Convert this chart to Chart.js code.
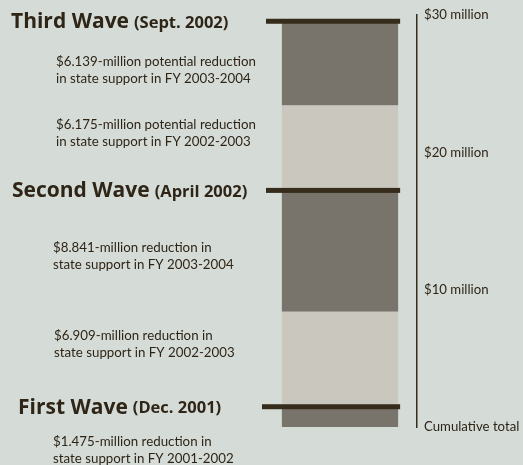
<!DOCTYPE html>
<html>
<head>
<meta charset="utf-8">
<script src="https://cdn.jsdelivr.net/npm/chart.js@4"></script>
<style>
  html, body { margin: 0; padding: 0; background: #d5dcd8; }
  #wrap { width: 523px; height: 465px; }
</style>
</head>
<body>
<div id="wrap"><canvas id="chart" width="523" height="465"></canvas></div>
<script>
// ── DONNÉES ───────────────────────────────────────
// reductions in millions, bottom to top
const segmentValues = [1.475, 6.909, 8.841, 6.175, 6.139];
const segmentShade  = ['dark', 'light', 'dark', 'light', 'dark'];
const segmentNotes  = [
  ['$1.475-million reduction in', 'state support in FY 2001-2002'],
  ['$6.909-million reduction in', 'state support in FY 2002-2003'],
  ['$8.841-million reduction in', 'state support in FY 2003-2004'],
  ['$6.175-million potential reduction', 'in state support in FY 2002-2003'],
  ['$6.139-million potential reduction', 'in state support in FY 2003-2004']
];
const waveNames   = ['First Wave', 'Second Wave', 'Third Wave'];
const waveDates   = ['(Dec. 2001)', '(April 2002)', '(Sept. 2002)'];
const waveTopIdx  = [0, 2, 4];           // segment that closes each wave
const tickValues  = [0, 10, 20, 30];
const tickLabels  = ['Cumulative total', '$10 million', '$20 million', '$30 million'];

// ── STYLE ─────────────────────────────────────────
const COULEURS = {
  dark:  '#79746b',
  light: '#cac7bf',
  trait: '#362c1c',
  texte: '#2e2517'
};
const POLICE       = 'Lato, "Open Sans", sans-serif';
const POLICE_TITRE = '"Open Sans", Lato, sans-serif';

// placement of the left-hand notes (x, y offset in px from segment top)
const NOTE_X      = [53, 54, 53, 56, 56];
const NOTE_DY     = [35, 24, 57, 19, 40];
const WAVE_X      = [18, 12, 11];
const WAVE_LEFT   = [262, 266, 266];

// cumulative tops
const cumul = [];
segmentValues.reduce(function(acc, v, i) { cumul[i] = acc + v; return cumul[i]; }, 0);

const datasets = segmentValues.map(function(v, i) {
  return {
    label: 'seg' + i,
    data: [v],
    backgroundColor: COULEURS[segmentShade[i]],
    borderWidth: 0,
    barPercentage: 1,
    categoryPercentage: 0.755,
    stack: 'total'
  };
});

// ── PLUGIN ANNOTATIONS ────────────────────────────
const annotations = {
  id: 'annotations',
  afterDatasetsDraw(chart) {
    const ctx = chart.ctx;
    const y = chart.scales.y;
    const meta = chart.getDatasetMeta(0).data[0];
    const barRight = meta.x + meta.width / 2;

    ctx.save();
    waveTopIdx.forEach(function(idx, w) {
      const py = y.getPixelForValue(cumul[idx]);
      // trait de vague
      ctx.fillStyle = COULEURS.trait;
      ctx.fillRect(WAVE_LEFT[w], py - 2.5, barRight + 2 - WAVE_LEFT[w], 5);

      // titres
      ctx.fillStyle = COULEURS.texte;
      ctx.textBaseline = 'middle';
      ctx.textAlign = 'left';
      ctx.font = 'bold 21px ' + POLICE_TITRE;
      ctx.fillText(waveNames[w], WAVE_X[w], py + 1);
      const wName = ctx.measureText(waveNames[w]).width;
      ctx.font = 'bold 16.5px ' + POLICE_TITRE;
      ctx.fillText(waveDates[w], WAVE_X[w] + wName + 5, py + 2);
    });

    // notes
    ctx.font = '13.3px ' + POLICE;
    ctx.fillStyle = COULEURS.texte;
    segmentNotes.forEach(function(lines, i) {
      const top = y.getPixelForValue(cumul[i]);
      lines.forEach(function(t, k) {
        ctx.fillText(t, NOTE_X[i], top + NOTE_DY[i] + k * 17);
      });
    });
    ctx.restore();
  }
};

new Chart(document.getElementById('chart'), {
  type: 'bar',
  data: { labels: ['total'], datasets: datasets },
  options: {
    responsive: false,
    animation: false,
    layout: { padding: { left: 263, top: 13, bottom: 38, right: 0 } },
    plugins: { legend: { display: false }, tooltip: { enabled: false } },
    scales: {
      x: { display: false, stacked: true },
      y: {
        stacked: true,
        position: 'right',
        min: 0,
        max: 30,
        afterFit: function(scale) { scale.width = 106; },
        afterBuildTicks: function(scale) {
          scale.ticks = tickValues.map(function(v) { return { value: v }; });
        },
        grid: { display: false, drawTicks: false },
        border: { display: true, color: COULEURS.trait, width: 1.5 },
        ticks: {
          padding: 7,
          color: COULEURS.texte,
          font: { family: POLICE, size: 13.2 },
          callback: function(v) { return tickLabels[tickValues.indexOf(v)]; }
        }
      }
    }
  },
  plugins: [annotations]
});
</script>
</body>
</html>
